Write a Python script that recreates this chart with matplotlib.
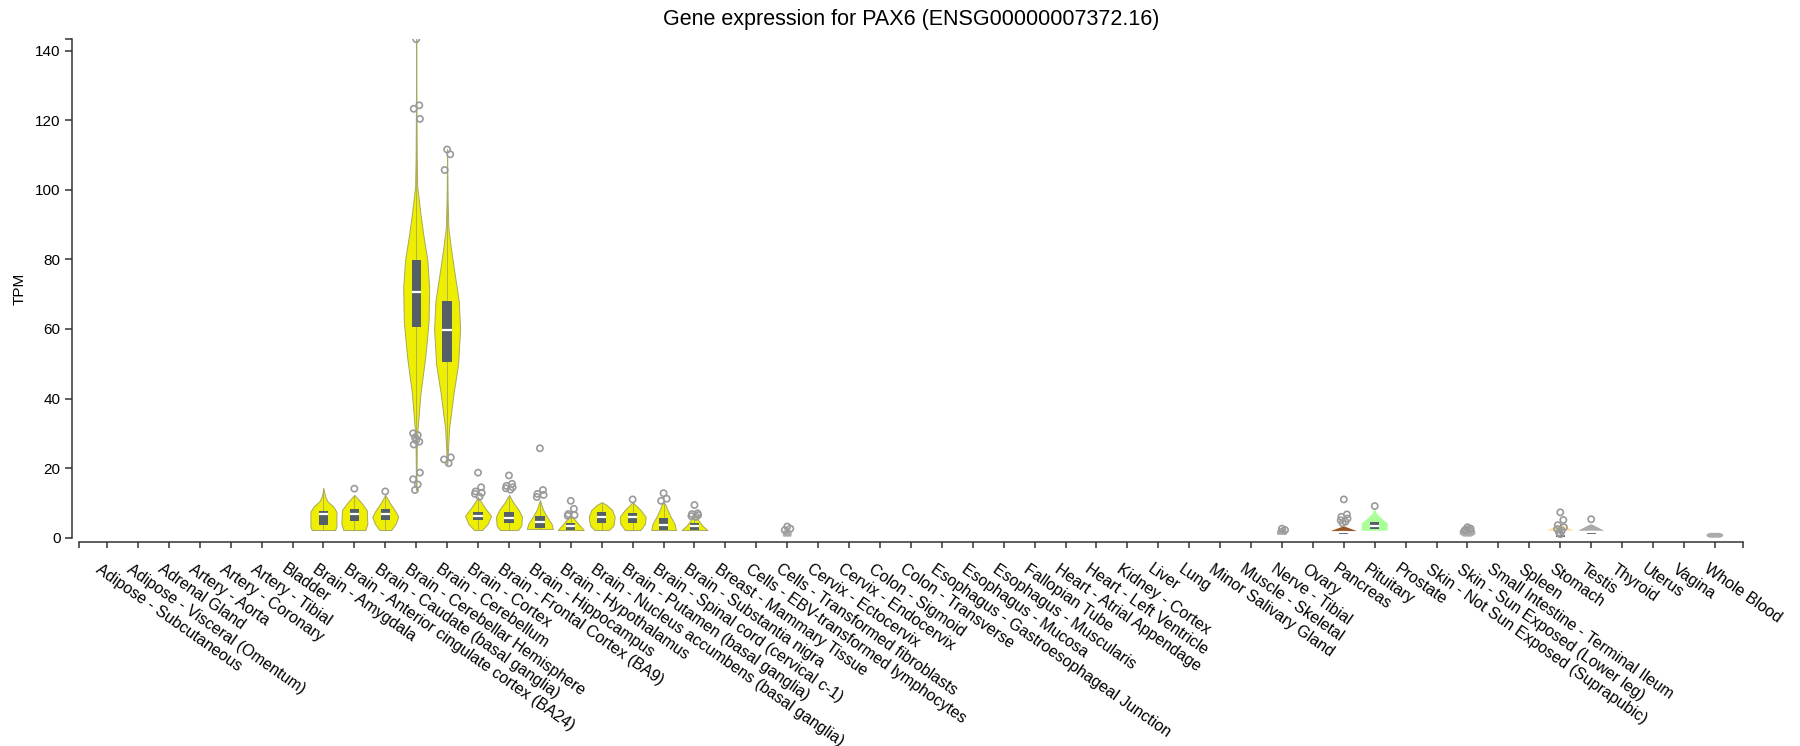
import numpy as np
import matplotlib
matplotlib.use("Agg")
import matplotlib.pyplot as plt
from matplotlib.patches import Rectangle
from matplotlib.transforms import ScaledTranslation

plt.rcParams["font.family"] = ["Liberation Sans", "DejaVu Sans"]

# GTEx tissues, in plotting order
tissues = [
    "Adipose - Subcutaneous", "Adipose - Visceral (Omentum)", "Adrenal Gland",
    "Artery - Aorta", "Artery - Coronary", "Artery - Tibial", "Bladder",
    "Brain - Amygdala", "Brain - Anterior cingulate cortex (BA24)",
    "Brain - Caudate (basal ganglia)", "Brain - Cerebellar Hemisphere",
    "Brain - Cerebellum", "Brain - Cortex", "Brain - Frontal Cortex (BA9)",
    "Brain - Hippocampus", "Brain - Hypothalamus",
    "Brain - Nucleus accumbens (basal ganglia)", "Brain - Putamen (basal ganglia)",
    "Brain - Spinal cord (cervical c-1)", "Brain - Substantia nigra",
    "Breast - Mammary Tissue", "Cells - EBV-transformed lymphocytes",
    "Cells - Transformed fibroblasts", "Cervix - Ectocervix", "Cervix - Endocervix",
    "Colon - Sigmoid", "Colon - Transverse", "Esophagus - Gastroesophageal Junction",
    "Esophagus - Mucosa", "Esophagus - Muscularis", "Fallopian Tube",
    "Heart - Atrial Appendage", "Heart - Left Ventricle", "Kidney - Cortex", "Liver",
    "Lung", "Minor Salivary Gland", "Muscle - Skeletal", "Nerve - Tibial", "Ovary",
    "Pancreas", "Pituitary", "Prostate", "Skin - Not Sun Exposed (Suprapubic)",
    "Skin - Sun Exposed (Lower leg)", "Small Intestine - Terminal Ileum", "Spleen",
    "Stomach", "Testis", "Thyroid", "Uterus", "Vagina", "Whole Blood",
]

# tissues with a visible violin
violin_tissue = [
    "Brain - Amygdala", "Brain - Anterior cingulate cortex (BA24)",
    "Brain - Caudate (basal ganglia)", "Brain - Cerebellar Hemisphere",
    "Brain - Cerebellum", "Brain - Cortex", "Brain - Frontal Cortex (BA9)",
    "Brain - Hippocampus", "Brain - Hypothalamus",
    "Brain - Nucleus accumbens (basal ganglia)", "Brain - Putamen (basal ganglia)",
    "Brain - Spinal cord (cervical c-1)", "Brain - Substantia nigra",
    "Cells - Transformed fibroblasts", "Nerve - Tibial", "Pancreas", "Pituitary",
    "Skin - Sun Exposed (Lower leg)", "Stomach", "Testis", "Whole Blood",
]

# density outline: TPM levels and relative density (1 = widest)
violin_tpm = [
    [2.2, 3.2, 7.5, 9.0, 10.5, 12.0, 14.2],
    [2.2, 4.0, 8.0, 10.0, 11.5, 12.3],
    [2.2, 4.0, 6.0, 7.5, 10.0, 12.3],
    [13.7, 25, 31, 41.6, 52, 62, 72, 80, 87, 93, 101, 110, 125, 143.3],
    [21.2, 26, 31.4, 41.6, 50, 60, 68, 76.6, 83, 89, 97, 111.6],
    [2.2, 4.0, 6.3, 8.5, 11.6],
    [2.2, 3.5, 6.0, 8.0, 10.0, 12.3],
    [2.5, 4.0, 6.0, 8.0, 10.8],
    [2.2, 3.5, 5.0, 6.5],
    [2.2, 3.5, 6.0, 8.0, 9.5, 10.2],
    [2.2, 4.0, 6.0, 8.0, 10.2],
    [2.2, 4.0, 6.0, 8.0, 9.5, 10.2],
    [2.2, 3.5, 5.0, 6.5, 7.5],
    [0.3, 1.0, 2.0, 2.4],
    [0.8, 1.5, 2.5, 3.0],
    [1.9, 2.6, 3.3],
    [2.0, 4.1, 5.0, 6.0, 7.0, 8.4],
    [0.3, 1.0, 2.0, 3.0, 3.6],
    [2.0, 3.0, 3.9],
    [2.0, 3.0, 3.9],
    [0.0, 0.3, 0.7, 1.1, 1.4],
]
violin_density = [
    [0.9, 1.0, 1.0, 0.75, 0.3, 0.12, 0.0],
    [0.85, 1.0, 0.95, 0.55, 0.2, 0.0],
    [0.45, 0.8, 1.0, 0.8, 0.35, 0.0],
    [0.02, 0.04, 0.1, 0.33, 0.7, 0.95, 1.0, 0.85, 0.55, 0.33, 0.08, 0.04, 0.02, 0.0],
    [0.02, 0.08, 0.15, 0.5, 0.85, 1.0, 0.9, 0.55, 0.3, 0.1, 0.04, 0.0],
    [0.3, 0.75, 1.0, 0.55, 0.0],
    [0.7, 0.95, 1.0, 0.75, 0.35, 0.0],
    [1.0, 0.9, 0.55, 0.25, 0.0],
    [1.0, 0.7, 0.35, 0.0],
    [0.55, 0.9, 1.0, 0.8, 0.35, 0.0],
    [0.6, 0.95, 1.0, 0.6, 0.0],
    [0.95, 0.85, 0.55, 0.3, 0.15, 0.0],
    [1.0, 0.6, 0.3, 0.1, 0.0],
    [0.3, 0.35, 0.3, 0.0],
    [0.35, 0.4, 0.3, 0.0],
    [1.0, 0.5, 0.0],
    [1.0, 1.0, 0.7, 0.4, 0.15, 0.0],
    [0.3, 0.6, 0.6, 0.4, 0.0],
    [1.0, 0.5, 0.0],
    [1.0, 0.5, 0.0],
    [0.4, 0.6, 0.65, 0.6, 0.35],
]

# box: first quartile, median, third quartile (nan = no box drawn)
nan = float("nan")
q1 = [3.7, 4.8, 5.1, 60.5, 50.5, 5.1, 4.1, 2.9, 2.2, 4.1, 4.1, 2.2, 2.2,
      nan, nan, 1.0, 2.5, nan, 0.3, 1.2, nan]
median = [6.8, 6.9, 6.9, 70.6, 59.7, 6.3, 5.8, 4.4, 3.4, 6.0, 5.9, 3.65, 3.4,
          nan, nan, 1.5, 3.45, nan, 1.0, 1.6, nan]
q3 = [7.8, 8.3, 8.3, 79.8, 68.1, 7.5, 7.5, 6.2, 4.3, 7.5, 7.2, 5.6, 4.1,
      nan, nan, 1.9, 4.4, nan, 1.7, 2.0, nan]

outliers = [
    [],
    [14.1],
    [13.3],
    [143.3, 124.3, 123.3, 120.4, 30.0, 29.5, 28.8, 28.0, 27.6, 26.8, 18.7, 16.8, 15.3, 13.7],
    [111.6, 110.2, 105.7, 23.1, 22.5, 21.4],
    [18.7, 14.5, 13.3, 12.9, 12.6, 11.8],
    [17.9, 15.5, 14.9, 14.5, 14.2, 13.8],
    [25.7, 13.7, 12.6, 12.3, 11.7],
    [10.6, 8.3, 6.8, 6.5, 6.3],
    [],
    [11.0],
    [12.8, 11.2, 10.6],
    [9.4, 7.0, 6.8, 6.5, 6.2, 6.0],
    [3.2, 2.6, 2.2],
    [2.6, 2.2],
    [11.0, 6.7, 6.0, 5.5, 5.0, 4.6, 4.2],
    [9.1],
    [3.0, 2.6, 2.2],
    [7.3, 5.1, 3.6, 3.0, 2.5, 2.0, 1.5, 1.0],
    [5.3],
    [],
]

tissue_color = {
    "Cells - Transformed fibroblasts": "#aaaaaa", "Nerve - Tibial": "#aaaaaa",
    "Pancreas": "#995522", "Pituitary": "#aaff99",
    "Skin - Sun Exposed (Lower leg)": "#aaaaaa", "Stomach": "#ffdd99",
    "Testis": "#aaaaaa", "Whole Blood": "#aaaaaa",
}

W, H = 1800, 746
fig = plt.figure(figsize=(W / 100, H / 100), dpi=100)
# axes placed in pixel terms: x band range and y value range
x0, x1 = 78.6, 1743.0
ytop, ybot = 39.2, 537.7
ax = fig.add_axes([x0 / W, 1 - ybot / H, (x1 - x0) / W, (ybot - ytop) / H])

n = len(tissues)
ax.set_xlim(-0.918, n - 1 + 0.91)
ax.set_ylim(0, 143.3)

half = 0.42      # widest violin half-width, in band units
box_half = 0.15

for name, lev, dens, a, m, b, outs in zip(violin_tissue, violin_tpm, violin_density,
                                          q1, median, q3, outliers):
    i = tissues.index(name)
    col = tissue_color.get(name, "#eeee00")
    lev = np.asarray(lev, float)
    d = np.asarray(dens, float) * half
    edge = "#a8a860" if col == "#eeee00" else "none"
    ax.fill_betweenx(lev, i - d, i + d, facecolor=col, edgecolor=edge,
                     linewidth=0.7, zorder=2)
    if col == "#eeee00":
        ax.plot([i, i], [lev[0], lev[-1]], color="#a8a860", lw=0.6, zorder=2)
    if not np.isnan(a):
        ax.add_patch(Rectangle((i - box_half, a), 2 * box_half, b - a,
                               facecolor="#555f66", edgecolor="none", zorder=3))
        ax.plot([i - box_half, i + box_half], [m, m], color="white", lw=1.6,
                solid_capstyle="butt", zorder=4)
    if outs:
        jit = np.array([0.0, 0.1, -0.08, 0.12, -0.1, 0.05, -0.04])
        xs = i + jit[np.arange(len(outs)) % len(jit)]
        ax.scatter(xs, outs, s=20, facecolors="none", edgecolors="#9a9a9a",
                   linewidths=1.2, zorder=5)

# axes styling
axis_col = "#333333"
for side in ("top", "right"):
    ax.spines[side].set_visible(False)
ax.spines["left"].set_position(("outward", 4.9))
ax.spines["bottom"].set_position(("outward", 3.3))
for side in ("left", "bottom"):
    ax.spines[side].set_color(axis_col)
    ax.spines[side].set_linewidth(1.1)

ax.set_yticks(np.arange(0, 141, 20))
ax.set_yticks([143.3], minor=True)
ax.tick_params(axis="y", which="both", length=5, width=1.1, color=axis_col,
               labelsize=11, pad=3)
ax.tick_params(axis="y", which="minor", labelleft=False)

ax.set_xticks(np.arange(n))
ax.set_xticks([-0.918, n - 1 + 0.91], minor=True)
ax.tick_params(axis="x", which="both", length=4.3, width=1.1, color=axis_col,
               pad=16.6)
ax.set_xticklabels(tissues, rotation=-35, rotation_mode="anchor", ha="left",
                   va="baseline", fontsize=11.5)
shift = ScaledTranslation(-12 / 100, 0, fig.dpi_scale_trans)
for lab in ax.get_xticklabels():
    lab.set_transform(lab.get_transform() + shift)

fig.text(20 / W, 1 - 289 / H, "TPM", rotation=90, ha="center", va="center",
         fontsize=11)
fig.text((x0 + x1) / 2 / W, 1 - 19 / H,
         "Gene expression for PAX6 (ENSG00000007372.16)",
         ha="center", va="center", fontsize=15.5)

fig.savefig("out.png", dpi=100)
